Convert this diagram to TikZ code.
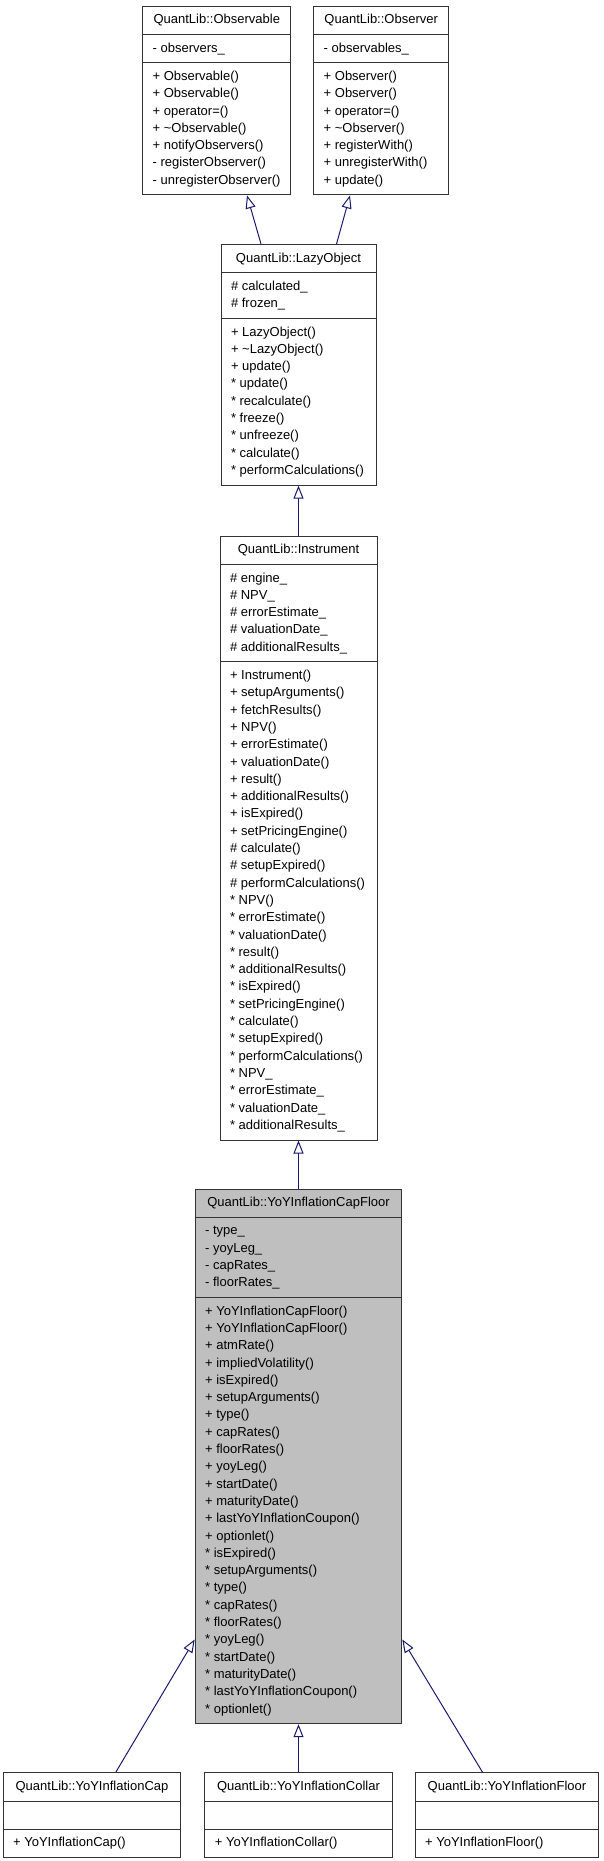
\documentclass[tikz,border=0pt]{standalone}
\usepackage{fontspec}
\setmainfont{Liberation Sans}
\usetikzlibrary{shapes.multipart,arrows.meta,positioning}
\definecolor{navyline}{RGB}{25,25,112}
\definecolor{basegray}{RGB}{191,191,191}

\begin{document}
\begin{tikzpicture}[
    x=1pt, y=-1pt,
    cls/.style={rectangle split, rectangle split parts=3, draw=black!80, line width=1pt, fill=white,
        rectangle split part align={center,left,left}, align=left, inner xsep=10pt, inner ysep=5pt,
        font=\fontsize{13}{17.3}\selectfont, anchor=north},
    base/.style={cls, fill=basegray},
    inherit/.style={-{Triangle[open,length=13pt,width=10pt]}, draw=navyline, line width=1pt}
]
\useasboundingbox (0,0) rectangle (603,1861);

% Top: observer pattern classes
\node[cls, minimum width=148.3pt] (observable) at (216.8,5.7) {\strut QuantLib::Observable\strut
    \nodepart{two}\strut - observers\_\strut
    \nodepart{three}\strut + Observable()\\ + Observable()\\ + operator=()\\ + \textasciitilde Observable()\\
    + notifyObservers()\\ - registerObserver()\\ - unregisterObserver()\strut};
\node[cls, minimum width=135pt] (observer) at (381.2,5.7) {\strut QuantLib::Observer\strut
    \nodepart{two}\strut - observables\_\strut
    \nodepart{three}\strut + Observer()\\ + Observer()\\ + operator=()\\ + \textasciitilde Observer()\\
    + registerWith()\\ + unregisterWith()\\ + update()\strut};

% Lazy object
\node[cls, minimum width=155pt] (lazy) at (298.5,244) {\strut QuantLib::LazyObject\strut
    \nodepart{two}\strut \# calculated\_\\ \# frozen\_\strut
    \nodepart{three}\strut + LazyObject()\\ + \textasciitilde LazyObject()\\ + update()\\ * update()\\
    * recalculate()\\ * freeze()\\ * unfreeze()\\ * calculate()\\ * performCalculations()\strut};

% Instrument
\node[cls, minimum width=157pt, below=50pt of lazy] (instrument) {\strut QuantLib::Instrument\strut
    \nodepart{two}\strut \# engine\_\\ \# NPV\_\\ \# errorEstimate\_\\ \# valuationDate\_\\ \# additionalResults\_\strut
    \nodepart{three}\strut + Instrument()\\ + setupArguments()\\ + fetchResults()\\ + NPV()\\ + errorEstimate()\\
    + valuationDate()\\ + result()\\ + additionalResults()\\ + isExpired()\\ + setPricingEngine()\\
    \# calculate()\\ \# setupExpired()\\ \# performCalculations()\\ * NPV()\\ * errorEstimate()\\
    * valuationDate()\\ * result()\\ * additionalResults()\\ * isExpired()\\ * setPricingEngine()\\
    * calculate()\\ * setupExpired()\\ * performCalculations()\\ * NPV\_\\ * errorEstimate\_\\
    * valuationDate\_\\ * additionalResults\_\strut};

% The class itself
\node[base, minimum width=206.7pt, below=48pt of instrument] (capfloor) {\strut QuantLib::YoYInflationCapFloor\strut
    \nodepart{two}\strut - type\_\\ - yoyLeg\_\\ - capRates\_\\ - floorRates\_\strut
    \nodepart{three}\strut + YoYInflationCapFloor()\\ + YoYInflationCapFloor()\\ + atmRate()\\ + impliedVolatility()\\
    + isExpired()\\ + setupArguments()\\ + type()\\ + capRates()\\ + floorRates()\\ + yoyLeg()\\
    + startDate()\\ + maturityDate()\\ + lastYoYInflationCoupon()\\ + optionlet()\\ * isExpired()\\
    * setupArguments()\\ * type()\\ * capRates()\\ * floorRates()\\ * yoyLeg()\\ * startDate()\\
    * maturityDate()\\ * lastYoYInflationCoupon()\\ * optionlet()\strut};

% Derived classes
\node[cls, minimum width=187.3pt, below=48pt of capfloor] (collar) {\strut QuantLib::YoYInflationCollar\strut
    \nodepart{two}\strut
    \nodepart{three}\strut + YoYInflationCollar()\strut};
\node[cls, minimum width=177.7pt, left=23pt of collar] (cap) {\strut QuantLib::YoYInflationCap\strut
    \nodepart{two}\strut
    \nodepart{three}\strut + YoYInflationCap()\strut};
\node[cls, minimum width=183.7pt, right=22pt of collar] (floor) {\strut QuantLib::YoYInflationFloor\strut
    \nodepart{two}\strut
    \nodepart{three}\strut + YoYInflationFloor()\strut};

% Inheritance
\draw[inherit] ([xshift=-37.5pt]lazy.north) -- ([xshift=30.2pt]observable.south);
\draw[inherit] ([xshift=38pt]lazy.north) -- ([xshift=-31.2pt]observer.south);
\draw[inherit] (instrument.north) -- (lazy.south);
\draw[inherit] (capfloor.north) -- (instrument.south);
\draw[inherit] ([xshift=23.8pt]cap.north) -- ([yshift=84.7pt]capfloor.south west);
\draw[inherit] (collar.north) -- (capfloor.south);
\draw[inherit] ([xshift=-24.5pt]floor.north) -- ([yshift=84.7pt]capfloor.south east);

\end{tikzpicture}
\end{document}
